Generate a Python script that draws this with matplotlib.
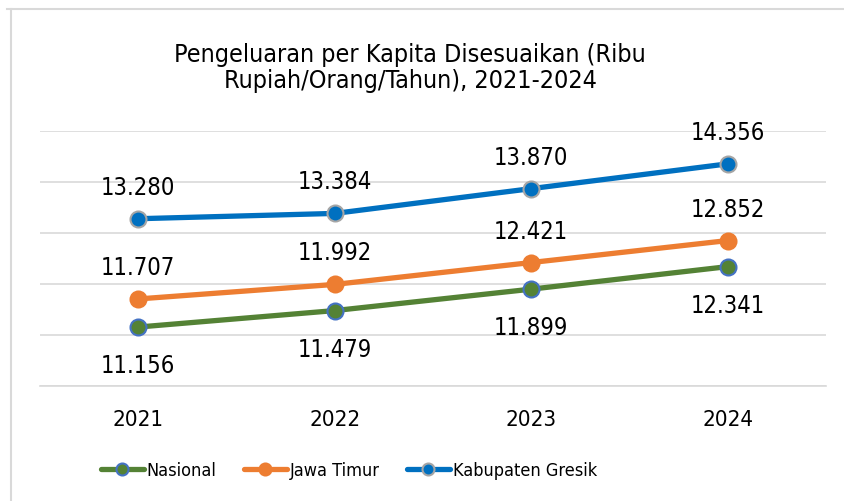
import matplotlib.pyplot as plt
from matplotlib.lines import Line2D

years = ['2021', '2022', '2023', '2024']
nasional = [11156, 11479, 11899, 12341]
jawa_timur = [11707, 11992, 12421, 12852]
gresik = [13280, 13384, 13870, 14356]
series_names = ['Nasional', 'Jawa Timur', 'Kabupaten Gresik']

plt.rcParams['font.family'] = ['DejaVu Sans']
plt.rcParams['font.stretch'] = 'condensed'


def fmt(v):
    return f'{v:,}'.replace(',', '.')


fig = plt.figure(figsize=(8.44, 5.02), dpi=100)
ax = fig.add_axes([40 / 844, 1 - 387 / 502, 786 / 844, 255 / 502])

x = list(range(len(years)))
ax.plot(x, nasional, color='#548235', lw=3.8, marker='o', ms=11.5, solid_capstyle='round',
        mfc='#548235', mec='#4472C4', mew=1.5, label=series_names[0], zorder=3)
ax.plot(x, jawa_timur, color='#ED7D31', lw=3.8, marker='o', ms=11.5, solid_capstyle='round',
        mfc='#ED7D31', mec='#ED7D31', mew=1.5, label=series_names[1], zorder=3)
ax.plot(x, gresik, color='#0070C0', lw=3.8, marker='o', ms=11.5, solid_capstyle='round',
        mfc='#0070C0', mec='#A5A5A5', mew=1.5, label=series_names[2], zorder=3)

for i in x:
    ax.annotate(fmt(gresik[i]), (i, gresik[i]), xytext=(0, 18), textcoords='offset points',
                ha='center', va='baseline', fontsize=17)
    ax.annotate(fmt(jawa_timur[i]), (i, jawa_timur[i]), xytext=(0, 18), textcoords='offset points',
                ha='center', va='baseline', fontsize=17)
    ax.annotate(fmt(nasional[i]), (i, nasional[i]), xytext=(0, -32.4), textcoords='offset points',
                ha='center', va='baseline', fontsize=17)

ax.set_xlim(-0.5, 3.5)
ax.set_ylim(10000, 15000)
ax.set_yticks(range(10000, 15001, 1000))
ax.set_yticklabels([])
ax.tick_params(axis='y', length=0)
ax.set_xticks(x)
ax.set_xticklabels(years, fontsize=16)
ax.tick_params(axis='x', length=0, pad=16.5)
ax.grid(axis='y', color='#D9D9D9', lw=1.2)
ax.set_axisbelow(True)
for s in ['top', 'right', 'left']:
    ax.spines[s].set_visible(False)
ax.spines['bottom'].set_color('#D9D9D9')
ax.spines['bottom'].set_linewidth(1.2)

fig.text(410 / 844, 1 - 68 / 502, 'Pengeluaran per Kapita Disesuaikan (Ribu\nRupiah/Orang/Tahun), 2021-2024',
         ha='center', va='center', fontsize=18, linespacing=1.1)

ax.legend(loc='center', bbox_to_anchor=(0.393, -0.33), ncol=3, frameon=False, fontsize=13,
          handlelength=2.4, handletextpad=0.15, columnspacing=1.5, markerscale=0.75)

# chart frame (clipped on right and bottom)
fig.add_artist(Line2D([7 / 844, 1], [1 - 9.5 / 502, 1 - 9.5 / 502], color='#D9D9D9', lw=1.5))
fig.add_artist(Line2D([10.5 / 844, 10.5 / 844], [0, 1 - 9.5 / 502], color='#D9D9D9', lw=1.5))

fig.savefig('out.png', dpi=100)
